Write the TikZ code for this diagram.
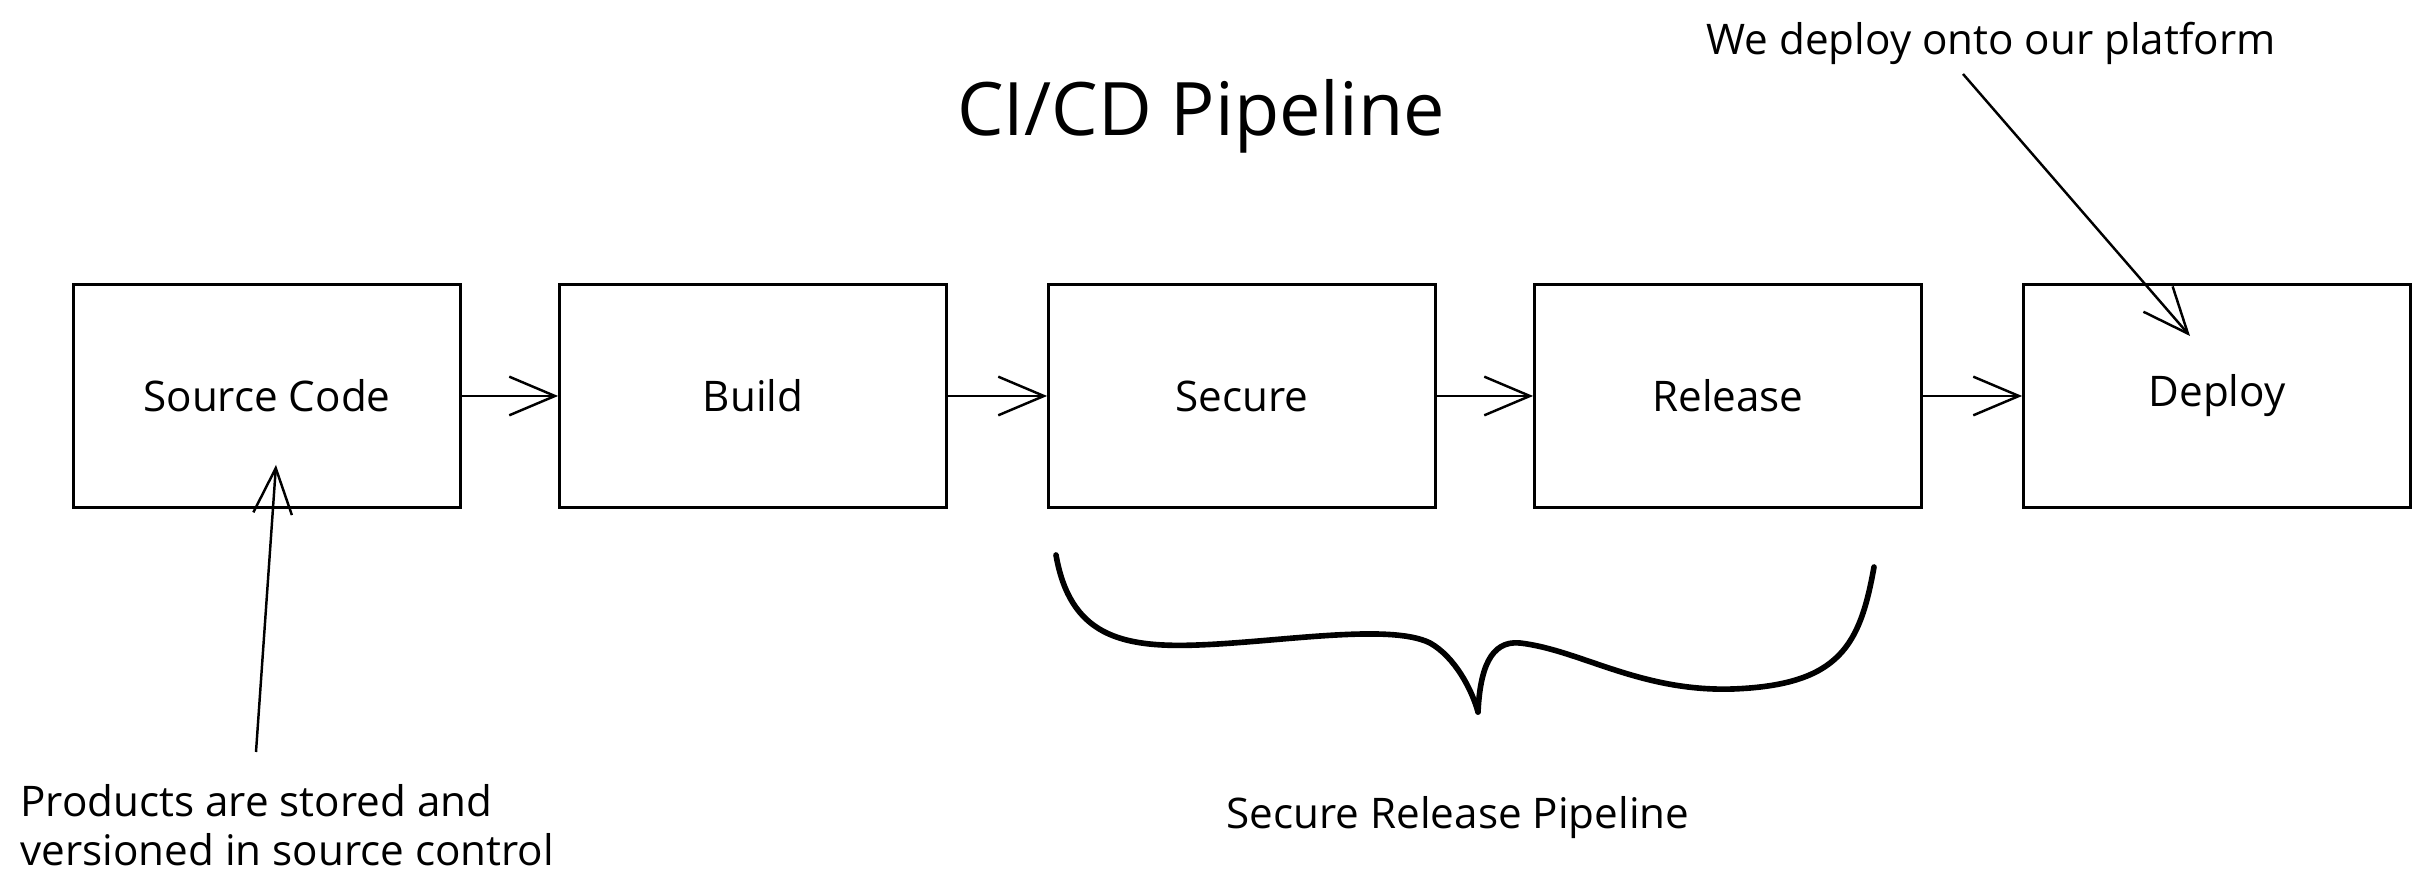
\documentclass[tikz,border=0pt]{standalone}
\usepackage{fontspec}
\setmainfont{Open Sans}
\usetikzlibrary{arrows.meta}
\begin{document}
\begin{tikzpicture}
% Configuración de estilos
\tikzstyle{stage} = [rectangle, draw=black, line width=0.8pt, minimum width=3.87cm, minimum height=2.23cm, text centered, font=\fontsize{12}{14}\selectfont]
\tikzstyle{flow} = [-{Straight Barb[length=13pt,width=11pt]}, line width=0.7pt]
\tikzstyle{note} = [font=\fontsize{12}{14}\selectfont]
\tikzstyle{brace} = [line width=1.6pt, line cap=round, line join=round]

\useasboundingbox (0,0) rectangle (24.3,8.95);

% Título
\node[font=\fontsize{21}{25}\selectfont] (title) at (12.01,7.79) {CI/CD Pipeline};

% Etapas del pipeline
\node[stage] (source) at (2.67,4.99) {Source Code};
\node[stage] (build) at (7.53,4.99) {Build};
\node[stage] (secure) at (12.42,4.99) {Secure};
\node[stage] (release) at (17.28,4.99) {Release};
\node[stage] (deploy) at (22.17,4.99) {Deploy};

% Conexiones entre etapas
\draw[flow] (source) -- (build);
\draw[flow] (build) -- (secure);
\draw[flow] (secure) -- (release);
\draw[flow] (release) -- (deploy);

% Anotación: control de versiones
\node[note, align=left, anchor=west] (products) at (0.08,0.70) {
    Products are stored and\\
    versioned in source control
};
\coordinate (srcfrom) at (2.56,1.43);
\coordinate (srcto) at (2.76,4.30);
\draw[flow] (srcfrom) -- (srcto);

% Anotación: plataforma
\node[note] (platform) at (19.91,8.52) {We deploy onto our platform};
\coordinate (platfrom) at (19.63,8.21);
\coordinate (platto) at (21.90,5.59);
\draw[flow] (platfrom) -- (platto);

% Llave bajo Secure y Release
\draw[brace] (10.56,3.40) .. controls (10.70,2.60) and (11.20,2.47) .. (11.98,2.50)
    .. controls (12.80,2.53) and (13.90,2.72) .. (14.30,2.52)
    .. controls (14.55,2.38) and (14.72,2.05) .. (14.78,1.83);
\draw[brace] (14.78,1.83) .. controls (14.80,2.25) and (14.90,2.55) .. (15.20,2.52)
    .. controls (15.80,2.45) and (16.40,2.03) .. (17.33,2.06)
    .. controls (18.40,2.10) and (18.60,2.50) .. (18.74,3.28);
\node[note] (securerelease) at (14.58,0.77) {Secure Release Pipeline};
\end{tikzpicture}
\end{document}
